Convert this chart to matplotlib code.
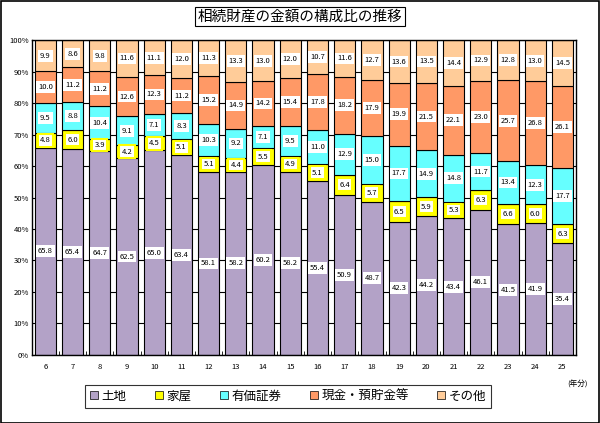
import numpy as np
import matplotlib.pyplot as plt
from matplotlib.patches import Rectangle

plt.rcParams['font.family'] = ['Noto Sans CJK JP', 'DejaVu Sans']

years = ['6', '7', '8', '9', '10', '11', '12', '13', '14', '15',
         '16', '17', '18', '19', '20', '21', '22', '23', '24', '25']
land = [65.8, 65.4, 64.7, 62.5, 65.0, 63.4, 58.1, 58.2, 60.2, 58.2,
        55.4, 50.9, 48.7, 42.3, 44.2, 43.4, 46.1, 41.5, 41.9, 35.4]
house = [4.8, 6.0, 3.9, 4.2, 4.5, 5.1, 5.1, 4.4, 5.5, 4.9,
         5.1, 6.4, 5.7, 6.5, 5.9, 5.3, 6.3, 6.6, 6.0, 6.3]
securities = [9.5, 8.8, 10.4, 9.1, 7.1, 8.3, 10.3, 9.2, 7.1, 9.5,
              11.0, 12.9, 15.0, 17.7, 14.9, 14.8, 11.7, 13.4, 12.3, 17.7]
cash = [10.0, 11.2, 11.2, 12.6, 12.3, 11.2, 15.2, 14.9, 14.2, 15.4,
        17.8, 18.2, 17.9, 19.9, 21.5, 22.1, 23.0, 25.7, 26.8, 26.1]
other = [9.9, 8.6, 9.8, 11.6, 11.1, 12.0, 11.3, 13.3, 13.0, 12.0,
         10.7, 11.6, 12.7, 13.6, 13.5, 14.4, 12.9, 12.8, 13.0, 14.5]

series = [land, house, securities, cash, other]
names = ['土地', '家屋', '有価証券', '現金・預貯金等', 'その他']
colors = ['#B3A2C7', '#FFFF00', '#66FFFF', '#FF9966', '#FFCC99']

fig = plt.figure(figsize=(6, 4.23), dpi=100)
ax = fig.add_axes([0.053, 0.161, 0.907, 0.744])

x = np.arange(len(years))
bottom = np.zeros(len(years))
for vals, name, c in zip(series, names, colors):
    vals = np.array(vals)
    ax.bar(x, vals, 0.78, bottom=bottom, color=c, edgecolor='black',
           linewidth=0.8, label=name, zorder=2)
    for xi, b, v in zip(x, bottom, vals):
        box = dict(boxstyle='square,pad=0.25', fc='white', ec='none')
        if name == '家屋':
            box = dict(boxstyle='square,pad=0.3', fc='white', ec='#FFFF00', lw=1.5)
        ax.text(xi, b + v / 2, f'{v:.1f}', ha='center', va='center',
                fontsize=5.5, bbox=box, zorder=3)
    bottom += vals

ax.set_xlim(-0.5, len(years) - 0.5)
ax.set_ylim(0, 100)
ax.set_yticks(np.arange(0, 101, 10))
ax.set_yticklabels([f'{v}%' for v in range(0, 101, 10)], fontsize=5.5)
ax.set_xticks(x)
ax.set_xticklabels(years, fontsize=5.5)
ax.set_xticks(x[:-1] + 0.5, minor=True)
ax.tick_params(axis='x', which='major', length=0, pad=6)
ax.tick_params(axis='x', which='minor', length=3, direction='in')
ax.tick_params(axis='y', length=0, pad=2)
ax.grid(axis='y', color='black', linewidth=0.8, zorder=0)
ax.set_axisbelow(True)
for s in ax.spines.values():
    s.set_linewidth(1)

fig.text(0.98, 0.092, '(年分)', ha='right', va='center', fontsize=5.5)

leg = ax.legend(loc='upper center', bbox_to_anchor=(0.471, -0.095), ncol=5,
                fontsize=9, frameon=True, fancybox=False, edgecolor='black',
                handlelength=0.6, handleheight=0.6, handletextpad=0.3,
                columnspacing=2.3, borderpad=0.4, borderaxespad=0)
leg.get_frame().set_linewidth(0.8)
for h in leg.legend_handles:
    h.set_linewidth(0.5)

fig.text(0.5, 0.961, '相続財産の金額の構成比の推移', ha='center', va='center', fontsize=10.5,
         bbox=dict(boxstyle='square,pad=0.2', fc='white', ec='black', lw=0.8))

fig.patches.append(Rectangle((0.001, 0.001), 0.997, 0.997, transform=fig.transFigure,
                             fill=False, ec='black', lw=1.2))

fig.savefig('out.png', dpi=100)
